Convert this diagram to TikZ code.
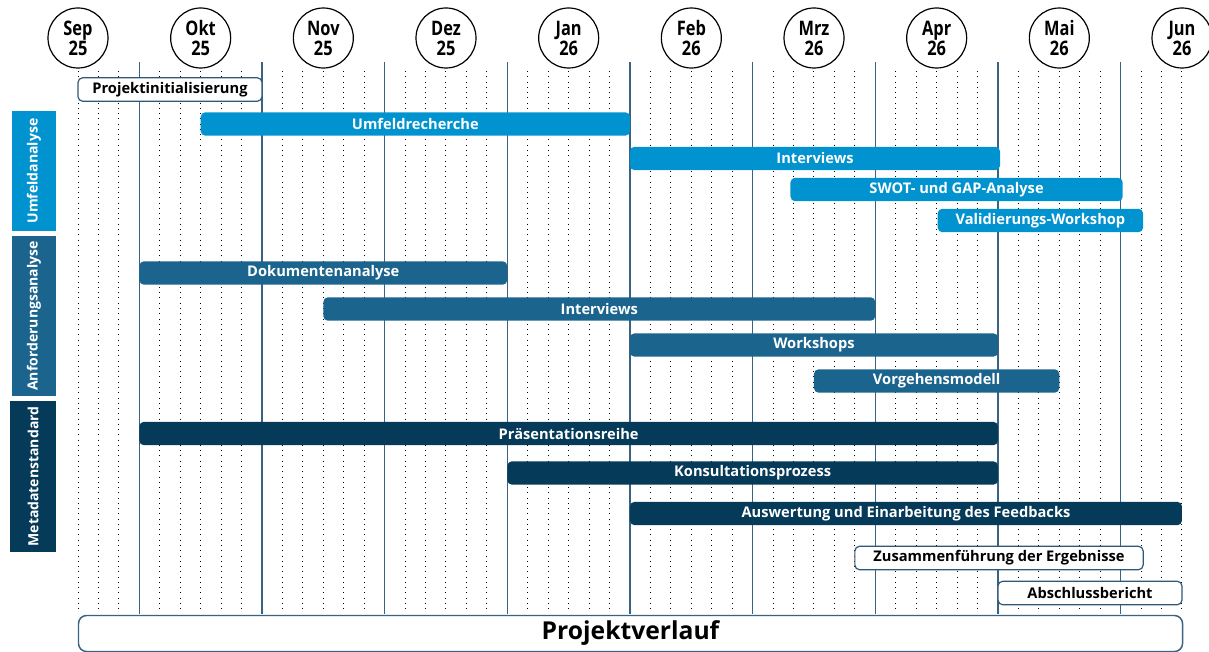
\documentclass[tikz,border=0pt]{standalone}
\usepackage{fontspec}
\setmainfont{Open Sans}
\definecolor{cLight}{HTML}{0093CF}
\definecolor{cMid}{HTML}{1B648E}
\definecolor{cDark}{HTML}{053A59}
\definecolor{cLine}{HTML}{3A6283}
\definecolor{cBorder}{HTML}{2F5878}
\tikzset{
  barbase/.style={rounded corners=3.5pt, inner sep=0pt, minimum height=17.6pt, font=\fontsize{11}{12}\selectfont\bfseries, anchor=center},
  barL/.style={barbase, fill=cLight, text=white},
  barM/.style={barbase, fill=cMid, text=white},
  barD/.style={barbase, fill=cDark, text=white},
  barW/.style={barbase, fill=white, draw=cBorder, line width=0.9pt, text=black},
  monthc/.style={circle, draw=black, line width=0.9pt, fill=white, minimum size=45pt, inner sep=0pt, align=center, font=\fontsize{15}{17}\selectfont\bfseries},
  sidelab/.style={inner sep=0pt, text=white, font=\fontsize{10.5}{12}\selectfont\bfseries},
  dotline/.style={black, line width=0.75pt, dash pattern=on 0.75pt off 3.2pt},
  monthline/.style={cLine, line width=1.1pt}
}
\newcommand{\gbar}[7]{%
  \pgfmathsetmacro\bxa{78+20.444*#3}%
  \pgfmathsetmacro\bxb{78+20.444*#4}%
  \pgfmathsetmacro\bxc{(\bxa+\bxb)/2}%
  \pgfmathsetmacro\bwid{(\bxb-\bxa)*0.75}%
  \node[#2, minimum width=\bwid pt] (#1) at (\bxc,#5) {#6#7};%
}
\newcommand{\cond}[1]{\scalebox{0.82}[1]{#1}}
\begin{document}
\begin{tikzpicture}[x=0.75pt,y=-0.75pt]
\useasboundingbox (0,0) rectangle (1209,652);
% dotted grid
\foreach \j in {0,...,54}{
  \pgfmathtruncatemacro\r{mod(\j,6)}
  \ifnum\r=3\relax
    \draw[monthline] ({78+20.444*\j},62) -- ({78+20.444*\j},614);
  \else
    \draw[dotline] ({78+20.444*\j},71) -- ({78+20.444*\j},612);
  \fi
}
% month circles
\foreach \m/\yy [count=\k from 0] in {Sep/25,Okt/25,Nov/25,Dez/25,Jan/26,Feb/26,Mrz/26,Apr/26,Mai/26,Jun/26}{
  \node[monthc] (m\k) at ({78+122.667*\k},38) {\cond{\m}\\[-2pt]\cond{\yy}};
}
% side labels
\node[sidelab, fill=cLight, minimum width=33pt, minimum height=90pt] (sU) at (34,171) {\rotatebox{90}{Umfeldanalyse}};
\node[sidelab, fill=cMid, minimum width=33pt, minimum height=120pt] (sA) at (34,316) {\rotatebox{90}{Anforderungsanalyse}};
\node[sidelab, fill=cDark, minimum width=34.5pt, minimum height=113pt] (sM) at (33,476.5) {\rotatebox{90}{Metadatenstandard}};
% bars
\gbar{b1}{barW}{0}{9}{89.5}{}{Projektinitialisierung}
\gbar{b2}{barL}{6}{27}{124}{}{Umfeldrecherche}
\gbar{b3}{barL}{27}{45.1}{158.5}{}{Interviews}
\gbar{b4}{barL}{34.85}{51.1}{189.5}{}{SWOT- und GAP-Analyse}
\gbar{b5}{barL}{42.05}{52.1}{220.5}{}{Validierungs-Workshop}
\gbar{b6}{barM}{3}{21}{273}{}{Dokumentenanalyse}
\gbar{b7}{barM}{12}{39}{309}{}{Interviews}
\gbar{b8}{barM}{27}{45}{345}{}{Workshops}
\gbar{b9}{barM}{36}{48}{381}{}{Vorgehensmodell}
\gbar{b10}{barD}{3}{45}{433.5}{}{Präsentationsreihe}
\gbar{b11}{barD}{21}{45}{473}{}{Konsultationsprozess}
\gbar{b12}{barD}{27}{54}{513.5}{}{Auswertung und Einarbeitung des Feedbacks}
\gbar{b13}{barW}{38}{52.1}{558}{}{Zusammenführung der Ergebnisse}
\gbar{b14}{barW}{45}{54}{593}{}{Abschlussbericht}
% bottom box
\node[draw=cLine, line width=1.1pt, rounded corners=6pt, fill=white, minimum width=828pt, minimum height=27pt, inner sep=0pt, font=\fontsize{18.5}{22}\selectfont\bfseries] (pv) at (630.5,633.5) {Projektverlauf};
\end{tikzpicture}
\end{document}
